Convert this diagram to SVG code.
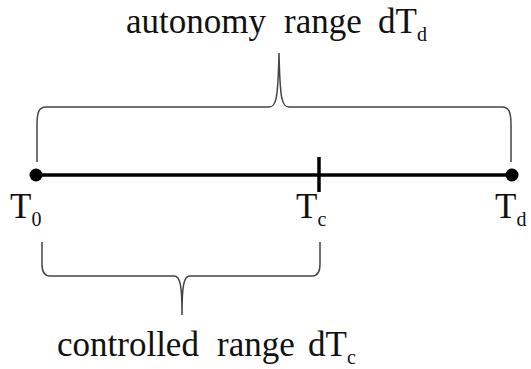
<svg xmlns="http://www.w3.org/2000/svg" width="531" height="369" viewBox="0 0 531 369">
<style>
.t{font-family:'Liberation Serif','Times New Roman',serif;font-size:35px;fill:#111}
.s{font-size:20px}
.br{fill:none;stroke:#444;stroke-width:1.5}
.ax{stroke:#000;stroke-width:3.5}
</style>
<rect width="531" height="369" fill="#fff"/>
<g id="connectors">
<line class="ax" x1="36" y1="175" x2="512" y2="175"/>
<line class="ax" x1="319" y1="157" x2="319" y2="192"/>
<path class="br" d="M37,162 L37,125 C37,112 39,107 46,107 L269,107 C276,107 278,100 279,53 C280,100 282,107 289,107 L502,107 C509,107 511,112 511,125 L511,162"/>
<path class="br" d="M42,242 L42,264 C42,272 44,276 50,276 L174,276 C180,276 182,284 182,315 C182,284 184,276 190,276 L312,276 C318,276 320,272 320,264 L320,242"/>
</g>
<g id="T0">
<circle cx="36" cy="175" r="6.5" fill="#000"/>
<text class="t" x="10" y="218">T<tspan class="s" dy="8">0</tspan></text>
</g>
<g id="Tc">
<text class="t" x="296" y="218">T<tspan class="s" dy="8">c</tspan></text>
</g>
<g id="Td">
<circle cx="512" cy="175" r="6.5" fill="#000"/>
<text class="t" x="495" y="218">T<tspan class="s" dy="8">d</tspan></text>
</g>
<g id="autonomy">
<text class="t" y="33"><tspan x="126">autonomy</tspan><tspan x="284">range</tspan><tspan x="378">dT</tspan><tspan class="s" dy="8">d</tspan></text>
</g>
<g id="controlled">
<text class="t" y="356"><tspan x="57">controlled</tspan><tspan x="217">range</tspan><tspan x="308">dT</tspan><tspan class="s" dy="8">c</tspan></text>
</g>
</svg>
